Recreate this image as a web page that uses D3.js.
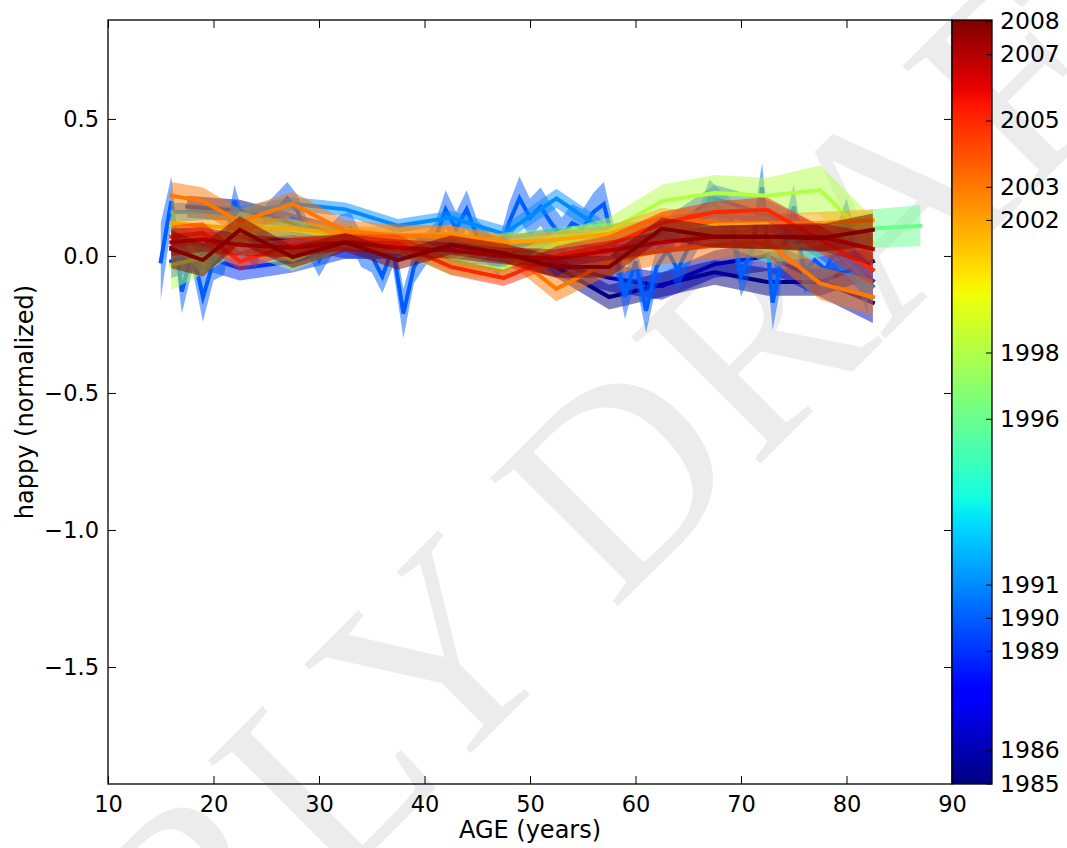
<!DOCTYPE html>
<html><head><meta charset="utf-8">
<script src="https://cdn.jsdelivr.net/npm/d3@7"></script>
<style>body{margin:0;background:#fff} svg{display:block} text{font-family:"DejaVu Sans",sans-serif}</style>
</head><body><svg id="c" width="1067" height="848"></svg>
<script>
// ---------- data ----------
const years = [1985, 1986, 1989, 1990, 1991, 1996, 1998, 2002, 2003, 2005, 2007, 2008];
const colorbarTicks = [1985, 1986, 1989, 1990, 1991, 1996, 1998, 2002, 2003, 2005, 2007, 2008];
const xTicks = [10, 20, 30, 40, 50, 60, 70, 80, 90];
const yTicks = [0.5, 0.0, -0.5, -1.0, -1.5];

const ages5 = [16, 19, 22.5, 27.5, 32.5, 37.5, 42.5, 47.5, 52.5, 57.5, 62.5, 67.5, 72.5, 77.5, 82.5];
const ages1985 = [17.5, 22.5, 27.5, 32.5, 37.5, 42.5, 47.5, 52.5, 57.5, 62.5, 67.5, 72.5, 77.5, 82.5];
const ages1996 = [16, 19, 22.5, 27.5, 32.5, 37.5, 42.5, 47.5, 52.5, 57.5, 62.5, 67.5, 72.5, 77.5, 82.5, 87];
const agesYearly = [15,16,17,18,19,20,21,22,23,24,25,26,27,28,29,30,31,32,33,34,35,36,37,38,39,40,41,42,43,44,45,46,47,48,49,50,51,52,53,54,55,56,57,58,59,60,61,62,63,64,65,66,67,68,69,70,71,72,73,74,75,76,77,78,79,80,81,82];

const happy1985 = [0.18, 0.165, 0.12, 0.07, 0.04, 0.03, 0.01, -0.04, -0.15, -0.105, -0.06, -0.095, -0.095, -0.02];
const err1985   = [0.04, 0.04, 0.035, 0.035, 0.035, 0.035, 0.035, 0.04, 0.045, 0.045, 0.045, 0.05, 0.05, 0.06];

const happy1986 = [0.03, 0.035, 0.05, 0.07, 0.03, 0.03, 0.02, 0.0, -0.03, -0.08, -0.11, -0.03, 0.0, -0.09, -0.17];
const err1986   = [0.06, 0.05, 0.045, 0.04, 0.04, 0.04, 0.04, 0.04, 0.045, 0.05, 0.05, 0.05, 0.055, 0.06, 0.075];

const happy1989 = [-0.02, 0.0, -0.045, -0.02, 0.03, 0.03, 0.04, 0.03, 0.06, 0.02, 0.08, 0.21, 0.15, 0.05, -0.09];
const err1989   = [0.06, 0.05, 0.045, 0.04, 0.04, 0.04, 0.04, 0.04, 0.045, 0.05, 0.05, 0.05, 0.055, 0.06, 0.07];

const happy1990 = [-0.02, 0.20, -0.13, 0.02, -0.15, -0.02, 0.0, 0.20, 0.06, 0.01, 0.13, 0.17, 0.21, 0.16, 0.06, -0.015, 0.05, 0.09, 0.10, 0.02, 0.0, -0.075, 0.03, -0.21, -0.04, 0.02, 0.06, 0.17, 0.10, 0.17, 0.07, 0.03, -0.015, 0.12, 0.21, 0.14, 0.18, 0.12, 0.07, 0.12, 0.10, 0.16, 0.19, 0.03, -0.15, -0.02, -0.20, -0.04, 0.02, -0.05, 0.03, 0.10, 0.21, 0.17, 0.14, -0.07, 0.02, 0.25, -0.17, 0.02, 0.18, -0.06, -0.015, -0.05, 0.02, 0.12, -0.02, -0.11];
const err1990   = [0.14, 0.09, 0.08, 0.07, 0.09, 0.07, 0.07, 0.06, 0.06, 0.06, 0.06, 0.06, 0.06, 0.06, 0.06, 0.06, 0.06, 0.06, 0.06, 0.06, 0.06, 0.06, 0.07, 0.09, 0.06, 0.06, 0.06, 0.07, 0.06, 0.07, 0.06, 0.06, 0.06, 0.07, 0.08, 0.07, 0.07, 0.07, 0.07, 0.07, 0.07, 0.07, 0.08, 0.07, 0.08, 0.07, 0.08, 0.07, 0.07, 0.07, 0.07, 0.07, 0.07, 0.07, 0.07, 0.08, 0.07, 0.09, 0.1, 0.08, 0.08, 0.08, 0.08, 0.08, 0.08, 0.09, 0.09, 0.1];

const happy1991 = [0.16, 0.16, 0.155, 0.19, 0.17, 0.11, 0.14, 0.08, 0.21, 0.08, 0.10, 0.15, 0.13, 0.07, -0.11];
const err1991   = [0.035, 0.03, 0.025, 0.025, 0.025, 0.025, 0.025, 0.03, 0.035, 0.035, 0.035, 0.035, 0.04, 0.045, 0.06];

const happy1996 = [0.11, -0.02, 0.12, 0.095, 0.065, 0.04, -0.015, 0.05, 0.07, 0.08, 0.09, 0.095, 0.02, 0.047, 0.10, 0.11];
const err1996   = [0.06, 0.05, 0.04, 0.035, 0.035, 0.035, 0.035, 0.035, 0.035, 0.04, 0.04, 0.04, 0.045, 0.05, 0.07, 0.075];

const happy1998 = [-0.033, -0.007, 0.06, -0.015, 0.065, 0.05, -0.03, -0.05, 0.045, 0.09, 0.20, 0.23, 0.22, 0.24, 0.05];
const err1998   = [0.09, 0.06, 0.045, 0.04, 0.04, 0.04, 0.04, 0.04, 0.045, 0.05, 0.06, 0.065, 0.065, 0.09, 0.09];

const happy2002 = [0.12, 0.11, 0.10, 0.10, 0.08, 0.075, 0.08, 0.05, 0.06, 0.08, 0.14, 0.12, 0.12, 0.12, 0.13];
const err2002   = [0.05, 0.045, 0.04, 0.035, 0.03, 0.03, 0.03, 0.03, 0.03, 0.03, 0.035, 0.035, 0.035, 0.04, 0.04];

const happy2003 = [0.22, 0.20, 0.125, 0.19, 0.09, 0.075, 0.07, 0.03, -0.12, -0.02, 0.02, 0.04, 0.05, -0.10, -0.15];
const err2003   = [0.05, 0.05, 0.045, 0.045, 0.04, 0.04, 0.04, 0.04, 0.045, 0.05, 0.05, 0.05, 0.055, 0.06, 0.065];

const happy2005 = [0.07, 0.084, -0.02, 0.04, 0.05, 0.047, -0.04, -0.08, 0.0, 0.04, 0.12, 0.16, 0.168, 0.06, -0.05];
const err2005   = [0.04, 0.04, 0.035, 0.03, 0.03, 0.03, 0.03, 0.03, 0.035, 0.035, 0.04, 0.04, 0.045, 0.05, 0.06];

const happy2007 = [0.05, 0.06, 0.04, 0.03, 0.05, 0.03, 0.02, 0.0, -0.01, 0.02, 0.05, 0.07, 0.07, 0.07, 0.025];
const err2007   = [0.05, 0.045, 0.04, 0.035, 0.03, 0.03, 0.03, 0.03, 0.035, 0.035, 0.04, 0.04, 0.045, 0.05, 0.06];

const happy2008 = [0.025, -0.015, 0.095, -0.004, 0.05, -0.015, 0.04, 0.01, -0.04, -0.04, 0.10, 0.07, 0.07, 0.065, 0.095];
const err2008   = [0.07, 0.06, 0.05, 0.04, 0.035, 0.035, 0.035, 0.035, 0.04, 0.04, 0.04, 0.04, 0.045, 0.05, 0.06];

const seriesTable = [
  {year: 1985, ages: ages1985, v: happy1985, e: err1985},
  {year: 1986, ages: ages5, v: happy1986, e: err1986},
  {year: 1989, ages: ages5, v: happy1989, e: err1989},
  {year: 1990, ages: agesYearly, v: happy1990, e: err1990},
  {year: 1991, ages: ages5, v: happy1991, e: err1991},
  {year: 1996, ages: ages1996, v: happy1996, e: err1996},
  {year: 1998, ages: ages5, v: happy1998, e: err1998},
  {year: 2002, ages: ages5, v: happy2002, e: err2002},
  {year: 2003, ages: ages5, v: happy2003, e: err2003},
  {year: 2005, ages: ages5, v: happy2005, e: err2005},
  {year: 2007, ages: ages5, v: happy2007, e: err2007},
  {year: 2008, ages: ages5, v: happy2008, e: err2008}
];

// ---------- layout ----------
const L = 108, R = 952, T = 20, B = 784;
const CBL = 952, CBR = 992;
const svg = d3.select('#c');

function pw(pts, t) {
  for (let i = 1; i < pts.length; i++) {
    if (t <= pts[i][0]) {
      const [t0, v0] = pts[i-1], [t1, v1] = pts[i];
      return v0 + (v1 - v0) * (t - t0) / (t1 - t0);
    }
  }
  return pts[pts.length-1][1];
}
const JR = [[0,0],[0.35,0],[0.66,1],[0.89,1],[1,0.5]];
const JG = [[0,0],[0.125,0],[0.375,1],[0.64,1],[0.91,0],[1,0]];
const JB = [[0,0.5],[0.11,1],[0.34,1],[0.65,0],[1,0]];
function jet(t) {
  t = Math.max(0, Math.min(1, t));
  return d3.rgb(255*pw(JR,t), 255*pw(JG,t), 255*pw(JB,t)).formatHex();
}
const yearMin = d3.min(years), yearMax = d3.max(years);
const colorOf = yr => jet((yr - yearMin) / (yearMax - yearMin));

const x = d3.scaleLinear().domain([10, 90]).range([L, R]);
const y = d3.scaleLinear().domain([-1.927, 0.861]).range([B, T]);
const cy = d3.scaleLinear().domain([1985, 2008]).range([783.5, 21]);

// watermark
svg.append('text')
  .attr('transform', 'translate(596,628) rotate(-45)')
  .attr('text-anchor', 'middle')
  .style('font-family', '"Liberation Serif","DejaVu Serif",serif')
  .style('font-size', '276px')
  .attr('fill', '#ececec')
  .text('EARLY DRAFT');

// clip
svg.append('defs').append('clipPath').attr('id', 'clip')
  .append('rect').attr('x', L).attr('y', T).attr('width', R - L).attr('height', B - T);

const plot = svg.append('g').attr('clip-path', 'url(#clip)');
const area = d3.area().x(d => x(d.a)).y0(d => y(d.v - d.e)).y1(d => y(d.v + d.e));
const line = d3.line().x(d => x(d.a)).y(d => y(d.v));

seriesTable.forEach(s => {
  const pts = s.ages.map((a, i) => ({a, v: s.v[i], e: s.e[i]}));
  const c = colorOf(s.year);
  plot.append('path').attr('d', area(pts)).attr('fill', c).attr('fill-opacity', 0.5).attr('stroke', 'none');
  plot.append('path').attr('d', line(pts)).attr('fill', 'none').attr('stroke', c)
    .attr('stroke-width', 4).attr('stroke-linejoin', 'miter').attr('stroke-miterlimit', 4).attr('stroke-linecap', 'square');
});

// axes
const fmtY = d3.format('.1f');
const gx = svg.append('g').attr('transform', `translate(0,${B})`)
  .call(d3.axisBottom(x).tickValues(xTicks).tickSizeInner(-8).tickSizeOuter(0).tickPadding(12));
const gxt = svg.append('g').attr('transform', `translate(0,${T})`)
  .call(d3.axisTop(x).tickValues(xTicks).tickSizeInner(-8).tickSizeOuter(0).tickFormat(''));
const gy = svg.append('g').attr('transform', `translate(${L},0)`)
  .call(d3.axisLeft(y).tickValues(yTicks).tickSizeInner(-8).tickSizeOuter(0).tickPadding(9).tickFormat(fmtY));
const gyr = svg.append('g').attr('transform', `translate(${R},0)`)
  .call(d3.axisRight(y).tickValues(yTicks).tickSizeInner(-8).tickSizeOuter(0).tickFormat(''));
[gx, gxt, gy, gyr].forEach(g => {
  g.select('.domain').remove();
  g.selectAll('.tick line').attr('stroke', '#000').attr('stroke-width', 1);
  g.selectAll('text').style('font-family', '"DejaVu Sans",sans-serif').style('font-size', '22.5px').attr('fill', '#000');
});

svg.append('rect').attr('x', L).attr('y', T).attr('width', R - L).attr('height', B - T)
  .attr('fill', 'none').attr('stroke', '#000').attr('stroke-width', 1.3);

// axis labels
svg.append('text').attr('x', (L + R) / 2).attr('y', 838).attr('text-anchor', 'middle')
  .style('font-size', '24px').text('AGE (years)');
svg.append('text').attr('transform', `translate(33,${(T + B) / 2}) rotate(-90)`).attr('text-anchor', 'middle')
  .style('font-size', '24px').text('happy (normalized)');

// colorbar
const grad = svg.select('defs').append('linearGradient').attr('id', 'jetg')
  .attr('x1', 0).attr('y1', 1).attr('x2', 0).attr('y2', 0);
d3.range(0, 101).forEach(i => {
  grad.append('stop').attr('offset', (i / 100)).attr('stop-color', jet(i / 100));
});
svg.append('rect').attr('x', CBL).attr('y', T).attr('width', CBR - CBL).attr('height', B - T)
  .attr('fill', 'url(#jetg)').attr('stroke', '#000').attr('stroke-width', 1.3);
const gc = svg.append('g').attr('transform', `translate(${CBR},0)`)
  .call(d3.axisRight(cy).tickValues(colorbarTicks).tickSizeInner(-6).tickSizeOuter(0).tickPadding(8).tickFormat(d3.format('d')));
gc.select('.domain').remove();
gc.selectAll('.tick line').attr('stroke', '#000');
gc.selectAll('text').style('font-family', '"DejaVu Sans",sans-serif').style('font-size', '23.5px').attr('fill', '#000');
</script></body></html>
